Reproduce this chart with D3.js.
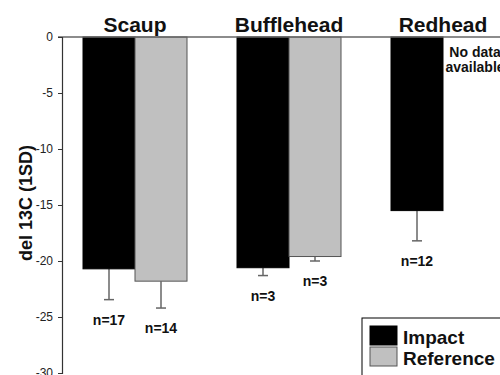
<!DOCTYPE html>
<html>
<head>
<meta charset="utf-8">
<script src="https://cdn.jsdelivr.net/npm/d3@7"></script>
<style>
  body { margin: 0; background: #fff; }
  svg { display: block; font-family: "Liberation Sans", Arial, sans-serif; }
</style>
</head>
<body>
<div id="chart"></div>
<script>
// data
const species = ['Scaup', 'Bufflehead', 'Redhead'];
const series = ['Impact', 'Reference'];
const impactMean = [-20.7, -20.6, -15.5];
const impactSD = [2.75, 0.7, 2.7];
const impactN = [17, 3, 12];
const referenceMean = [-21.8, -19.6, null];
const referenceSD = [2.4, 0.4, null];
const referenceN = [14, 3, null];
const yTicks = [0, -5, -10, -15, -20, -25, -30];

const colors = { Impact: '#000000', Reference: '#c0c0c0' };
const strokes = { Impact: '#000000', Reference: '#555555' };

const width = 500;
const height = 375;

const svg = d3.select('#chart')
  .append('svg')
  .attr('width', width)
  .attr('height', height);

const y = d3.scaleLinear().domain([0, -30]).range([37, 373]);

const x0 = d3.scaleBand()
  .domain(species)
  .range([58, 520])
  .paddingInner(50 / 154)
  .paddingOuter(25 / 154);

const x1 = d3.scaleBand()
  .domain(series)
  .range([0, x0.bandwidth()]);

const rows = [];
species.forEach((s, i) => {
  rows.push({ sp: s, ser: 'Impact', mean: impactMean[i], sd: impactSD[i], n: impactN[i] });
  rows.push({ sp: s, ser: 'Reference', mean: referenceMean[i], sd: referenceSD[i], n: referenceN[i] });
});
const valid = rows.filter(d => d.mean !== null);

// error bars (drawn under bars, downward only)
const err = svg.append('g').attr('class', 'errors');
valid.forEach(d => {
  const cx = x0(d.sp) + x1(d.ser) + x1.bandwidth() / 2;
  err.append('line')
    .attr('x1', cx).attr('x2', cx)
    .attr('y1', y(d.mean)).attr('y2', y(d.mean - d.sd))
    .attr('stroke', '#666').attr('stroke-width', 1.5);
  err.append('line')
    .attr('x1', cx - 5).attr('x2', cx + 5)
    .attr('y1', y(d.mean - d.sd)).attr('y2', y(d.mean - d.sd))
    .attr('stroke', '#666').attr('stroke-width', 1.5);
});

// bars
svg.append('g')
  .selectAll('rect')
  .data(valid)
  .join('rect')
  .attr('x', d => x0(d.sp) + x1(d.ser))
  .attr('y', y(0))
  .attr('width', x1.bandwidth())
  .attr('height', d => y(d.mean) - y(0))
  .attr('fill', d => colors[d.ser])
  .attr('stroke', d => strokes[d.ser])
  .attr('stroke-width', 1);

// n labels
svg.append('g')
  .selectAll('text')
  .data(valid)
  .join('text')
  .attr('x', d => x0(d.sp) + x1(d.ser) + x1.bandwidth() / 2)
  .attr('y', d => y(d.mean - d.sd) + 25)
  .attr('text-anchor', 'middle')
  .attr('font-size', 14)
  .attr('font-weight', 'bold')
  .attr('fill', '#111')
  .text(d => `n=${d.n}`);

// no data note
const noteX = x0('Redhead') + x1('Reference') + x1.bandwidth() / 2 + 6;
const noData = svg.append('text')
  .attr('x', noteX)
  .attr('y', 57)
  .attr('text-anchor', 'middle')
  .attr('font-size', 14)
  .attr('font-weight', 'bold')
  .attr('fill', '#111');
noData.append('tspan').text('No data');
noData.append('tspan')
  .attr('x', noteX)
  .attr('dy', 15)
  .text('available');

// category titles on top
svg.append('g')
  .selectAll('text')
  .data(species)
  .join('text')
  .attr('x', d => x0(d) + x0.bandwidth() / 2)
  .attr('y', 32)
  .attr('text-anchor', 'middle')
  .attr('font-size', 21)
  .attr('font-weight', 'bold')
  .attr('fill', '#111')
  .text(d => d);

// zero line across the top
svg.append('line')
  .attr('x1', 58).attr('x2', width)
  .attr('y1', y(0)).attr('y2', y(0))
  .attr('stroke', '#666').attr('stroke-width', 1.5);

// y axis
const yAxis = svg.append('g')
  .attr('transform', 'translate(62,0)')
  .call(d3.axisLeft(y).tickValues(yTicks).tickSize(4).tickPadding(5).tickFormat(d3.format('d')));
yAxis.select('.domain').attr('stroke', '#333').attr('stroke-width', 1.2);
yAxis.selectAll('.tick line').attr('stroke', '#333');
yAxis.selectAll('.tick text')
  .attr('font-size', 12)
  .attr('font-family', '"Liberation Sans", Arial, sans-serif')
  .attr('fill', '#222')
  .text(d => (d === 0 ? '0' : `-${Math.abs(d)}`));

// y axis title
svg.append('text')
  .attr('transform', 'translate(32,203) rotate(-90)')
  .attr('text-anchor', 'middle')
  .attr('font-size', 18)
  .attr('font-weight', 'bold')
  .attr('fill', '#111')
  .text('del 13C (1SD)');

// legend
const legend = svg.append('g').attr('transform', 'translate(362,318)');
legend.append('rect')
  .attr('width', 150).attr('height', 70)
  .attr('fill', '#fff').attr('stroke', '#000').attr('stroke-width', 1);
series.forEach((s, i) => {
  legend.append('rect')
    .attr('x', 8).attr('y', 8 + i * 21)
    .attr('width', 27).attr('height', 19)
    .attr('fill', colors[s])
    .attr('stroke', strokes[s]);
  legend.append('text')
    .attr('x', 41).attr('y', 26 + i * 21)
    .attr('font-size', 19)
    .attr('font-weight', 'bold')
    .attr('fill', '#111')
    .text(s);
});
</script>
</body>
</html>
